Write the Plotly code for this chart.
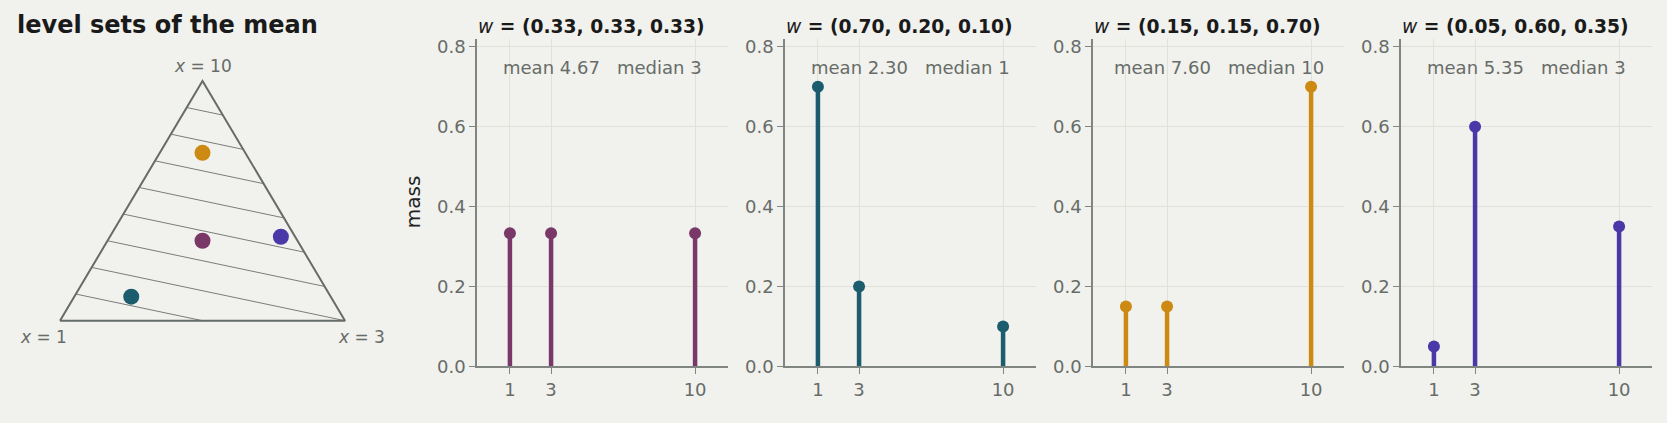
import math
import plotly.graph_objects as go

# ---------------- data ----------------
support = [1, 3, 10]
weights = [
    [1/3, 1/3, 1/3],
    [0.70, 0.20, 0.10],
    [0.15, 0.15, 0.70],
    [0.05, 0.60, 0.35],
]
colors = ["#7a3868", "#1b5d6d", "#cc8a12", "#4a38a8"]
level_values = [2, 3, 4, 5, 6, 7, 8, 9]
y_ticks = [0.0, 0.2, 0.4, 0.6, 0.8]

# ---------------- style ----------------
W, H = 1667, 423
BG = "#f1f1ed"
GREY_TXT = "#676c68"
AXIS_COL = "#808581"
GRID_COL = "#e1e1dc"
FONT = "DejaVu Sans"

def px_x(p):
    return p / W

def px_y(p):  # p measured from top
    return 1 - p / H

# triangle vertices (unit coords): x=1 bottom-left, x=3 bottom-right, x=10 top
V = [(0.0, 0.0), (1.0, 0.0), (0.5, math.sqrt(3) / 2)]

def bary(w):
    return (sum(wi * v[0] for wi, v in zip(w, V)),
            sum(wi * v[1] for wi, v in zip(w, V)))

fig = go.Figure()

# ---- triangle subplot (xaxis5/yaxis5) ----
tri_x = [v[0] for v in V] + [V[0][0]]
tri_y = [v[1] for v in V] + [V[0][1]]

# level set lines: intersect mean=c with edges
lx, ly = [], []
edges = [(0, 1), (1, 2), (0, 2)]
for c in level_values:
    pts = []
    for i, j in edges:
        vi, vj = support[i], support[j]
        if min(vi, vj) <= c <= max(vi, vj):
            t = (c - vi) / (vj - vi)
            w = [0.0, 0.0, 0.0]
            w[i] = 1 - t
            w[j] = t
            p = bary(w)
            if all(abs(p[0] - q[0]) > 1e-9 or abs(p[1] - q[1]) > 1e-9 for q in pts):
                pts.append(p)
    if len(pts) >= 2:
        lx += [pts[0][0], pts[1][0], None]
        ly += [pts[0][1], pts[1][1], None]

fig.add_trace(go.Scatter(x=lx, y=ly, mode="lines",
                         line=dict(color="#7b7d7b", width=1),
                         xaxis="x5", yaxis="y5", hoverinfo="skip", showlegend=False))
fig.add_trace(go.Scatter(x=tri_x, y=tri_y, mode="lines",
                         line=dict(color="#666c69", width=2),
                         xaxis="x5", yaxis="y5", hoverinfo="skip", showlegend=False))
for w, col in zip(weights, colors):
    p = bary(w)
    fig.add_trace(go.Scatter(x=[p[0]], y=[p[1]], mode="markers",
                             marker=dict(color=col, size=16),
                             xaxis="x5", yaxis="y5", showlegend=False))

# triangle axes: 285 px per unit, BL vertex at (60, 328)
scale = 285.0
xr = [-0.2, 1.2]
yr = [-0.3, 1.1]
x0 = 60 + xr[0] * scale
x1 = 60 + xr[1] * scale
yb = (H - 328) + yr[0] * scale
yt = (H - 328) + yr[1] * scale
hidden = dict(visible=False, showgrid=False, zeroline=False, fixedrange=True)
fig.update_layout(
    xaxis5=dict(domain=[x0 / W, x1 / W], range=xr, anchor="y5", **hidden),
    yaxis5=dict(domain=[yb / H, yt / H], range=yr, anchor="x5", **hidden),
)

annotations = []
vlabels = [("<i>x</i> = 1", -17, -16), ("<i>x</i> = 3", 16, -16), ("<i>x</i> = 10", 0, 15)]
for (txt, dx, dy), v in zip(vlabels, V):
    annotations.append(dict(x=v[0], y=v[1], xref="x5", yref="y5", text=txt,
                            showarrow=False, xshift=dx, yshift=dy,
                            xanchor="center", yanchor="middle",
                            font=dict(family=FONT, size=17, color=GREY_TXT)))

annotations.append(dict(x=px_x(15), y=px_y(24), xref="paper", yref="paper",
                        text="<b>level sets of the mean</b>", showarrow=False,
                        xanchor="left", yanchor="middle",
                        font=dict(family=FONT, size=24, color="#1a1a1a")))

# ---- stem panels ----
y_dom = [px_y(375), px_y(38)]
for k, (w, col) in enumerate(zip(weights, colors)):
    left = 477 + 308 * k
    right = left + 251
    ax = "" if k == 0 else str(k + 1)
    xa, ya = "x" + ax, "y" + ax
    sx, sy = [], []
    for v, m in zip(support, w):
        sx += [v, v, None]
        sy += [0, m, None]
    fig.add_trace(go.Scatter(x=sx, y=sy, mode="lines", line=dict(color=col, width=4.5),
                             xaxis=xa, yaxis=ya, hoverinfo="skip", showlegend=False))
    fig.add_trace(go.Scatter(x=support, y=w, mode="markers",
                             marker=dict(color=col, size=12),
                             xaxis=xa, yaxis=ya, showlegend=False))
    common = dict(showline=True, linecolor=AXIS_COL, linewidth=1.5,
                  ticks="outside", ticklen=6, tickwidth=1.3, tickcolor=AXIS_COL,
                  showgrid=True, gridcolor=GRID_COL, gridwidth=1, zeroline=False,
                  tickfont=dict(family=FONT, size=18, color=GREY_TXT), fixedrange=True)
    fig.layout["xaxis" + ax] = dict(domain=[px_x(left), px_x(right)], range=[-0.6, 11.6],
                                    tickvals=support, ticktext=[str(s) for s in support],
                                    anchor=ya, **common)
    fig.layout["yaxis" + ax] = dict(domain=y_dom, range=[0, 0.82], tickvals=y_ticks,
                                    tickformat=".1f", anchor=xa, **common)

    mean = sum(v * m for v, m in zip(support, w))
    cum = 0.0
    median = support[-1]
    for v, m in zip(support, w):
        cum += m
        if cum >= 0.5:
            median = v
            break
    cx = (left + right) / 2
    title = ("<span style='font-weight:normal'><i>w</i></span><b> = ("
             + ", ".join(f"{m:.2f}" for m in w) + ")</b>")
    annotations.append(dict(x=px_x(cx - 11), y=px_y(25), xref="paper", yref="paper",
                            text=title, showarrow=False, xanchor="center", yanchor="middle",
                            font=dict(family=FONT, size=18.7, color="#1a1a1a")))
    annotations.append(dict(x=px_x(cx), y=px_y(67), xref="paper", yref="paper",
                            text=f"mean {mean:.2f}\u00a0\u00a0\u00a0median {median}",
                            showarrow=False, xanchor="center", yanchor="middle",
                            font=dict(family=FONT, size=18, color=GREY_TXT)))

annotations.append(dict(x=px_x(413), y=px_y(206), xref="paper", yref="paper",
                        text="mass", textangle=-90, showarrow=False,
                        xanchor="center", yanchor="middle",
                        font=dict(family=FONT, size=20, color="#222222")))

fig.update_layout(width=W, height=H, margin=dict(l=0, r=0, t=0, b=0),
                  paper_bgcolor=BG, plot_bgcolor=BG, annotations=annotations,
                  showlegend=False, font=dict(family=FONT))

post = (
    "var st=document.createElement('style');"
    "st.textContent='html,body{margin:0!important;padding:0!important;"
    "overflow:hidden;background:" + BG + ";}';"
    "document.head.appendChild(st);"
)

fig.write_html("out.html", config={"displayModeBar": False, "responsive": False},
               post_script=post)
